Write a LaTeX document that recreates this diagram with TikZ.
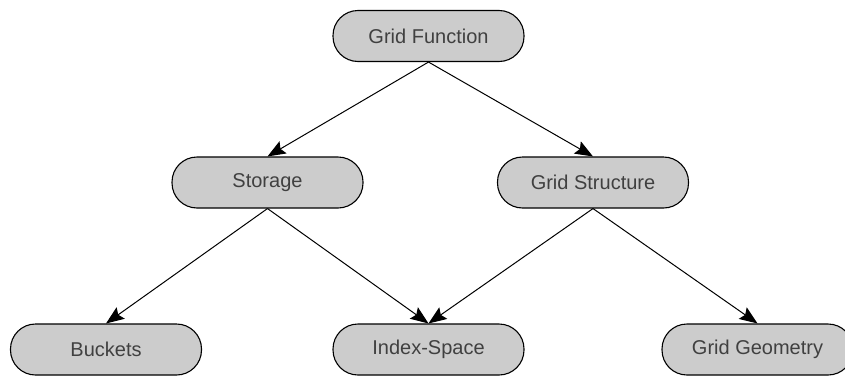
\documentclass[tikz,border=0pt]{standalone}
\usepackage{fontspec}
\setmainfont{Liberation Sans}
\usetikzlibrary{arrows.meta}
\begin{document}
\begin{tikzpicture}[x=1pt,y=-1pt]
        \tikzset{
            classnode/.style={rectangle,rounded corners=25pt,draw=black,line width=1.1pt,
                fill=black!20,text=black!75,minimum width=191pt,minimum height=51pt,
                font=\fontsize{20}{24}\selectfont},
            dep/.style={-{Stealth[length=18pt,width=14pt,inset=3pt]},line width=1pt}
        }
        \useasboundingbox (0,0) rectangle (845,375);
        \clip (0,0) rectangle (845,375);

        \node[classnode] (func) at (428.5,36) {Grid Function};

        \node[classnode] (store) at (267.5,182.5) {Storage};
        \node[classnode] (struct) at (593,182.5) {Grid Structure};

        \node[classnode] (buck) at (106,349.5) {Buckets};
        \node[classnode] (index) at (428.5,349.5) {Index-Space};
        \node[classnode] (geom) at (757.5,349.5) {Grid Geometry};

        \foreach \a/\b in {func/store,func/struct,store/buck,store/index,struct/index,struct/geom}{
                \draw[dep] (\a.south) -- (\b.north);
            }

    \end{tikzpicture}
\end{document}
